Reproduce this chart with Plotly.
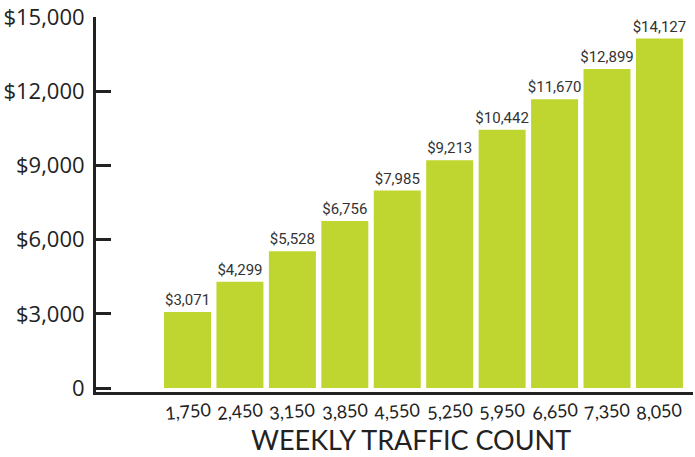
import plotly.graph_objects as go

traffic_labels = ["1,750", "2,450", "3,150", "3,850", "4,550", "5,250", "5,950", "6,650", "7,350", "8,050"]
revenue = [3071, 4299, 5528, 6756, 7985, 9213, 10442, 11670, 12899, 14127]
y_tick_values = [0, 3000, 6000, 9000, 12000, 15000]
y_tick_labels = ["0", "$3,000", "$6,000", "$9,000", "$12,000", "$15,000"]
x_title = "WEEKLY TRAFFIC COUNT"

bar_text = ["${:,}".format(v) for v in revenue]

fig = go.Figure()
fig.add_trace(go.Bar(
    x=traffic_labels,
    y=revenue,
    marker=dict(color="#BED62F", line=dict(width=0)),
    text=bar_text,
    texttemplate="%{text}",
    textposition="outside",
    constraintext="none",
    textfont=dict(family="Roboto, sans-serif", size=15, color="#333333"),
    cliponaxis=False,
    hoverinfo="skip",
))

# x tick labels, slightly tilted, centred under each bar
for lab in traffic_labels:
    fig.add_annotation(
        x=lab, y=-0.05, xref="x", yref="paper",
        text=lab, showarrow=False, textangle=-5,
        xanchor="center", yanchor="middle",
        font=dict(family="Lato, sans-serif", size=18, color="#222222"),
    )

fig.add_annotation(
    x=0.528, y=-0.126, xref="paper", yref="paper",
    text=x_title, showarrow=False,
    xanchor="center", yanchor="middle", borderpad=0,
    font=dict(family="Lato, sans-serif", size=27, color="#222222"),
)

fig.update_layout(
    width=695, height=457,
    margin=dict(l=96, r=2, t=17, b=65),
    paper_bgcolor="white", plot_bgcolor="white",
    bargap=0.104,
    showlegend=False,
    xaxis=dict(
        type="category",
        range=[-1.745, 9.64],
        automargin=False,
        showline=True, linecolor="#222222", linewidth=3,
        ticks="", showgrid=False, zeroline=False,
        showticklabels=False,
    ),
    yaxis=dict(
        range=[-160, 15000],
        automargin=False,
        tickvals=y_tick_values, ticktext=y_tick_labels,
        showline=True, linecolor="#222222", linewidth=3,
        ticks="inside", ticklen=15, tickwidth=3, tickcolor="#222222",
        showgrid=False, zeroline=False,
        tickfont=dict(family="Open Sans, sans-serif", size=22, color="#222222"),
        ticklabelstandoff=4,
    ),
)

fig.write_html("out.html", config={"displayModeBar": False},
               post_script="document.body.style.margin='0';document.body.style.padding='0';")
